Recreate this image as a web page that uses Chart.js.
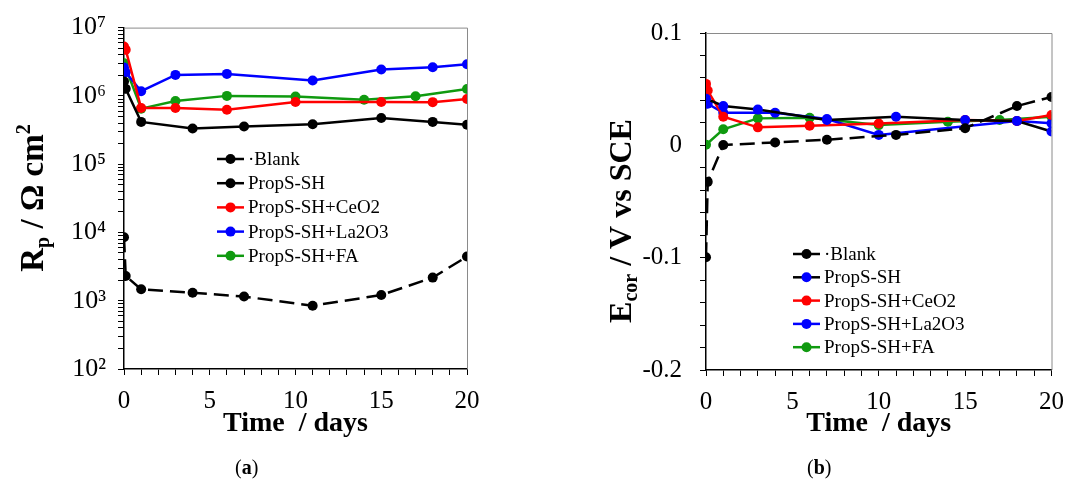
<!DOCTYPE html>
<html>
<head>
<meta charset="utf-8">
<script src="https://cdn.jsdelivr.net/npm/chart.js@4.4.1/dist/chart.umd.min.js"></script>
<style>
  body { margin: 0; background: #fff; width: 1066px; height: 481px; overflow: hidden; position: relative; font-family: "Liberation Serif", serif; }
  canvas { position: absolute; top: 0; }
  #chartA { left: 0; }
  #chartB { left: 540px; }
  .cap { position: absolute; top: 456px; font-size: 20px; color: #000; }
</style>
</head>
<body>
<canvas id="chartA" width="540" height="481"></canvas>
<canvas id="chartB" width="535" height="481"></canvas>
<div class="cap" style="left:235px">(<b>a</b>)</div>
<div class="cap" style="left:807px">(<b>b</b>)</div>
<script>
// series labels
const seriesLabels = ['\u00b7Blank', 'PropS-SH', 'PropS-SH+CeO2', 'PropS-SH+La2O3', 'PropS-SH+FA'];

// (a) polarisation resistance, ohm cm2
const rpBlankDays = [0, 0.1, 1, 4, 7, 11, 15, 18, 20];
const rpBlank = [8500, 2300, 1470, 1310, 1150, 845, 1210, 2180, 4440];
const rpPropsDays = [0, 0.1, 1, 4, 7, 11, 15, 18, 20];
const rpProps = [1.63e6, 1.27e6, 4.16e5, 3.32e5, 3.56e5, 3.85e5, 4.75e5, 4.16e5, 3.77e5];
const rpCeDays = [0, 0.1, 1, 3, 6, 10, 15, 18, 20];
const rpCe = [5.3e6, 4.74e6, 6.65e5, 6.65e5, 6.28e5, 8.13e5, 8.13e5, 8.1e5, 8.98e5];
const rpLaDays = [0, 0.1, 1, 3, 6, 11, 15, 18, 20];
const rpLa = [2.6e6, 2.22e6, 1.17e6, 2.03e6, 2.1e6, 1.68e6, 2.43e6, 2.62e6, 2.9e6];
const rpFaDays = [0, 1, 3, 6, 10, 14, 17, 20];
const rpFa = [3.0e6, 6.5e5, 8.4e5, 1.0e6, 9.8e5, 8.8e5, 9.9e5, 1.26e6];

// (b) corrosion potential, V vs SCE
const ecBlankDays = [0, 0.1, 1, 4, 7, 11, 15, 18, 20];
const ecBlank = [-0.0997, -0.0325, 0.0003, 0.0026, 0.005, 0.0093, 0.0152, 0.035, 0.043];
const ecPropsDays = [0, 1, 3, 7, 11, 15, 18, 20];
const ecProps = [0.0415, 0.035, 0.0318, 0.0225, 0.0254, 0.0225, 0.0216, 0.0123];
const ecCeDays = [0, 0.1, 1, 3, 6, 10, 15, 18, 20];
const ecCe = [0.0547, 0.0488, 0.0254, 0.016, 0.0175, 0.0195, 0.0225, 0.0216, 0.027];
const ecLaDays = [0, 0.1, 1, 4, 7, 10, 18, 20];
const ecLa = [0.0503, 0.037, 0.029, 0.029, 0.0234, 0.0093, 0.0216, 0.0196];
const ecFaDays = [0, 1, 3, 6, 10, 14, 17, 20];
const ecFa = [0.0005, 0.0143, 0.024, 0.0245, 0.018, 0.021, 0.0225, 0.0254];

// ticks
const xTickDays = Array.from({ length: 21 }, (_, i) => i);
const rpDecades = [2, 3, 4, 5, 6, 7];
const ecTicks = [-0.2, -0.18, -0.16, -0.14, -0.12, -0.1, -0.08, -0.06, -0.04, -0.02, 0, 0.02, 0.04, 0.06, 0.08, 0.1];
const ecMajor = [-0.2, -0.1, 0, 0.1];

const FONT = '"Liberation Serif", "Times New Roman", serif';
const SUP = { 2: '\u00b2', 3: '\u00b3', 4: '\u2074', 5: '\u2075', 6: '\u2076', 7: '\u2077' };

const pts = (xs, ys) => xs.map((x, i) => ({ x, y: ys[i] }));

function series(label, xs, ys, line, marker, dashed) {
  return {
    label,
    data: pts(xs, ys),
    borderColor: line,
    backgroundColor: marker,
    pointBackgroundColor: marker,
    pointBorderColor: marker,
    pointRadius: 5,
    pointBorderWidth: 0,
    borderWidth: 2.5,
    borderDash: dashed ? [15, 7] : [],
    tension: 0
  };
}

// legend with line + marker samples, drawn inside the plot
const lineLegend = {
  id: 'lineLegend',
  afterDraw(chart, args, o) {
    const ctx = chart.ctx;
    ctx.save();
    ctx.font = `${o.size}px ${FONT}`;
    ctx.textBaseline = 'middle';
    chart.data.datasets.forEach((ds, i) => {
      const y = o.top + i * o.gap;
      ctx.strokeStyle = ds.borderColor;
      ctx.lineWidth = 2.5;
      ctx.beginPath();
      ctx.moveTo(o.left, y);
      ctx.lineTo(o.left + o.lineLen, y);
      ctx.stroke();
      ctx.fillStyle = ds.pointBackgroundColor;
      ctx.beginPath();
      ctx.arc(o.left + o.lineLen / 2, y, 5, 0, Math.PI * 2);
      ctx.fill();
      ctx.fillStyle = '#000';
      ctx.fillText(ds.label, o.left + o.lineLen + 4, y + 1);
    });
    ctx.restore();
  }
};

// rotated y title with sub/superscripts
const yTitle = {
  id: 'yTitle',
  afterDraw(chart, args, o) {
    const ctx = chart.ctx;
    const big = `bold ${o.size}px ${FONT}`;
    const small = `bold ${Math.round(o.size * 0.62)}px ${FONT}`;
    ctx.save();
    ctx.translate(o.x, o.y);
    ctx.rotate(-Math.PI / 2);
    let total = 0;
    o.parts.forEach(([t, m]) => { ctx.font = m ? small : big; total += ctx.measureText(t).width; });
    let x = -total / 2;
    ctx.fillStyle = '#000';
    ctx.textBaseline = 'alphabetic';
    o.parts.forEach(([t, m]) => {
      ctx.font = m ? small : big;
      const dy = m === 'sub' ? o.size * 0.2 : m === 'sup' ? -o.size * 0.38 : 0;
      ctx.fillText(t, x, o.size * 0.33 + dy);
      x += ctx.measureText(t).width;
    });
    ctx.restore();
  }
};

// grey top and right frame
const frame = {
  id: 'frame',
  afterDraw(chart) {
    const { ctx, chartArea: a } = chart;
    ctx.save();
    ctx.strokeStyle = '#8a8a8a';
    ctx.lineWidth = 1;
    ctx.beginPath();
    ctx.moveTo(a.left, a.top + 0.5);
    ctx.lineTo(a.right + 0.5, a.top + 0.5);
    ctx.lineTo(a.right + 0.5, a.bottom);
    ctx.stroke();
    ctx.restore();
  }
};

function xScale(height, titlePad) {
  return {
    type: 'linear', min: 0, max: 20,
    afterBuildTicks: s => { s.ticks = xTickDays.map(v => ({ value: v })); },
    afterFit: s => { s.height = height; },
    ticks: {
      autoSkip: false, maxRotation: 0, padding: 11, color: '#000',
      font: { family: FONT, size: 25 },
      callback: v => (v % 5 === 0 ? String(v) : '')
    },
    grid: { drawOnChartArea: false, tickLength: 6, color: '#000', lineWidth: 1 },
    border: { color: '#000', width: 1.5 },
    title: {
      display: true, text: 'Time  / days', color: '#000',
      font: { family: FONT, size: 28, weight: 'bold' },
      padding: { top: 0, bottom: titlePad }
    }
  };
}

Chart.defaults.animation = false;

new Chart(document.getElementById('chartA'), {
  type: 'line',
  data: {
    datasets: [
      series(seriesLabels[0], rpBlankDays, rpBlank, '#000', '#000', true),
      series(seriesLabels[1], rpPropsDays, rpProps, '#000', '#000', false),
      series(seriesLabels[2], rpCeDays, rpCe, '#ff0000', '#ff0000', false),
      series(seriesLabels[3], rpLaDays, rpLa, '#0000ff', '#0000ff', false),
      series(seriesLabels[4], rpFaDays, rpFa, '#109a10', '#109a10', false)
    ]
  },
  plugins: [lineLegend, yTitle, frame],
  options: {
    responsive: false,
    layout: { padding: { top: 25, right: 73, bottom: 0, left: 0 } },
    scales: {
      x: xScale(112, 40),
      y: {
        type: 'logarithmic', min: 100, max: 1e7,
        afterBuildTicks: s => {
          const t = [];
          rpDecades.forEach(e => {
            const n = e === 7 ? 1 : 9;
            for (let k = 1; k <= n; k++) t.push({ value: k * Math.pow(10, e) });
          });
          s.ticks = t;
        },
        afterFit: s => { s.width = 124; },
        ticks: {
          autoSkip: false, padding: 12, color: '#000',
          font: { family: FONT, size: 26 },
          callback: v => {
            const e = Math.round(Math.log10(v));
            return Math.abs(Math.log10(v) - e) < 1e-9 ? '10' + SUP[e] : '';
          }
        },
        grid: { drawOnChartArea: false, tickLength: 6, color: '#000', lineWidth: 1 },
        border: { color: '#000', width: 1.5 }
      }
    },
    plugins: {
      legend: { display: false },
      tooltip: { enabled: false },
      lineLegend: { left: 217, top: 159, gap: 24.2, lineLen: 27, size: 19 },
      yTitle: { x: 32, y: 198, size: 33, parts: [['R', ''], ['p', 'sub'], [' / \u03a9 cm', ''], ['2', 'sup']] }
    }
  }
});

new Chart(document.getElementById('chartB'), {
  type: 'line',
  data: {
    datasets: [
      series(seriesLabels[0], ecBlankDays, ecBlank, '#000', '#000', true),
      series(seriesLabels[1], ecPropsDays, ecProps, '#000', '#0000ff', false),
      series(seriesLabels[2], ecCeDays, ecCe, '#ff0000', '#ff0000', false),
      series(seriesLabels[3], ecLaDays, ecLa, '#0000ff', '#0000ff', false),
      series(seriesLabels[4], ecFaDays, ecFa, '#109a10', '#109a10', false)
    ]
  },
  plugins: [lineLegend, yTitle, frame],
  options: {
    responsive: false,
    layout: { padding: { top: 28, right: 7, bottom: 0, left: 0 } },
    scales: {
      x: xScale(111, 40),
      y: {
        type: 'linear', min: -0.2, max: 0.1,
        afterBuildTicks: s => { s.ticks = ecTicks.map(v => ({ value: v })); },
        afterFit: s => { s.width = 166; },
        ticks: {
          autoSkip: false, padding: 18, color: '#000',
          font: { family: FONT, size: 25 },
          callback: v => {
            const m = ecMajor.find(t => Math.abs(t - v) < 1e-9);
            return m === undefined ? '' : String(m);
          }
        },
        grid: { drawOnChartArea: false, tickLength: 6, color: '#000', lineWidth: 1 },
        border: { color: '#000', width: 1.5 }
      }
    },
    plugins: {
      legend: { display: false },
      tooltip: { enabled: false },
      lineLegend: { left: 253, top: 254, gap: 23.3, lineLen: 27, size: 19 },
      yTitle: { x: 80, y: 221, size: 32, parts: [['E', ''], ['cor', 'sub'], [' / V vs SCE', '']] }
    }
  }
});
</script>
</body>
</html>
